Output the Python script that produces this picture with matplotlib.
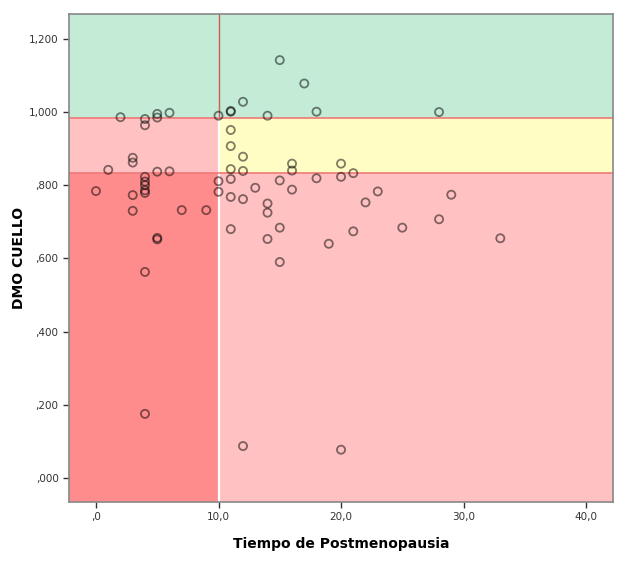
import matplotlib
matplotlib.use("Agg")
import matplotlib.pyplot as plt
from matplotlib.patches import Rectangle

# años de postmenopausia vs DMO cuello
tiempo = [0, 1, 2, 3, 3, 3, 3,
          4, 4, 4, 4, 4, 4, 4, 4, 4,
          5, 5, 5, 5, 5, 6, 6, 7, 9,
          10, 10, 10,
          11, 11, 11, 11, 11, 11, 11, 11,
          12, 12, 12, 12, 12, 13,
          14, 14, 14, 14,
          15, 15, 15, 15,
          16, 16, 16, 17, 18, 18, 19,
          20, 20, 20, 21, 21, 22, 23, 25, 28, 28, 29, 33]
dmo = [0.784, 0.842, 0.986, 0.875, 0.862, 0.773, 0.730,
       0.981, 0.964, 0.823, 0.810, 0.800, 0.786, 0.779, 0.563, 0.175,
       0.995, 0.985, 0.837, 0.656, 0.652, 0.998, 0.838, 0.732, 0.732,
       0.990, 0.811, 0.782,
       1.003, 1.001, 0.951, 0.907, 0.844, 0.817, 0.768, 0.680,
       1.028, 0.878, 0.839, 0.762, 0.087, 0.793,
       0.990, 0.750, 0.725, 0.653,
       1.142, 0.813, 0.684, 0.590,
       0.859, 0.840, 0.788, 1.078, 1.001, 0.819, 0.640,
       0.859, 0.823, 0.077, 0.833, 0.674, 0.753, 0.783, 0.684, 1.000, 0.707, 0.774, 0.655]

x_ticks = [0, 10, 20, 30, 40]
x_labels = [",0", "10,0", "20,0", "30,0", "40,0"]
y_ticks = [0, 0.2, 0.4, 0.6, 0.8, 1.0, 1.2]
y_labels = [",000", ",200", ",400", ",600", ",800", "1,000", "1,200"]

# umbrales
corte_x = 10
corte_bajo = 0.833
corte_alto = 0.984

xmin, xmax = -2.2, 42.2
ymin, ymax = -0.066, 1.268

fig = plt.figure(figsize=(6.35, 5.63), dpi=100)
ax = fig.add_axes([0.1087, 0.1083, 0.8567, 0.8668])
ax.set_xlim(xmin, xmax)
ax.set_ylim(ymin, ymax)

verde = "#c4ebd6"
amarillo = "#fffcc4"
rosa = "#ffc1c1"
rojo = "#ff8c8c"

ax.add_patch(Rectangle((xmin, corte_alto), xmax - xmin, ymax - corte_alto, color=verde, zorder=0, lw=0))
ax.add_patch(Rectangle((xmin, corte_bajo), corte_x - xmin, corte_alto - corte_bajo, color=rosa, zorder=0, lw=0))
ax.add_patch(Rectangle((corte_x, corte_bajo), xmax - corte_x, corte_alto - corte_bajo, color=amarillo, zorder=0, lw=0))
ax.add_patch(Rectangle((xmin, ymin), corte_x - xmin, corte_bajo - ymin, color=rojo, zorder=0, lw=0))
ax.add_patch(Rectangle((corte_x, ymin), xmax - corte_x, corte_bajo - ymin, color=rosa, zorder=0, lw=0))

# lineas de referencia
ax.axvline(corte_x, ymin=0, ymax=(corte_alto - ymin) / (ymax - ymin), color="white", lw=1.6, zorder=1)
ax.axvline(corte_x, ymin=(corte_alto - ymin) / (ymax - ymin), ymax=1, color="#c8605a", lw=1.0, zorder=1)
ax.axhline(corte_alto, color="#f07878", lw=1.2, zorder=1)
ax.axhline(corte_bajo, color="#f07878", lw=1.2, zorder=1)

ax.scatter(tiempo, dmo, s=34, facecolors="none", edgecolors=(0, 0, 0, 0.5), linewidths=1.3, zorder=3)

ax.set_xticks(x_ticks)
ax.set_xticklabels(x_labels)
ax.set_yticks(y_ticks)
ax.set_yticklabels(y_labels)
ax.tick_params(direction="out", length=4, width=1, color="#333333", labelsize=7.5, labelcolor="#333333")

for s in ax.spines.values():
    s.set_color("#888888")
    s.set_linewidth(1.2)

ax.set_xlabel("Tiempo de Postmenopausia", fontsize=10, fontweight="bold")
ax.set_ylabel("DMO CUELLO", fontsize=10, fontweight="bold")
ax.xaxis.set_label_coords(0.5, -0.072)
ax.yaxis.set_label_coords(-0.079, 0.5)

fig.savefig("out.png", dpi=100)
